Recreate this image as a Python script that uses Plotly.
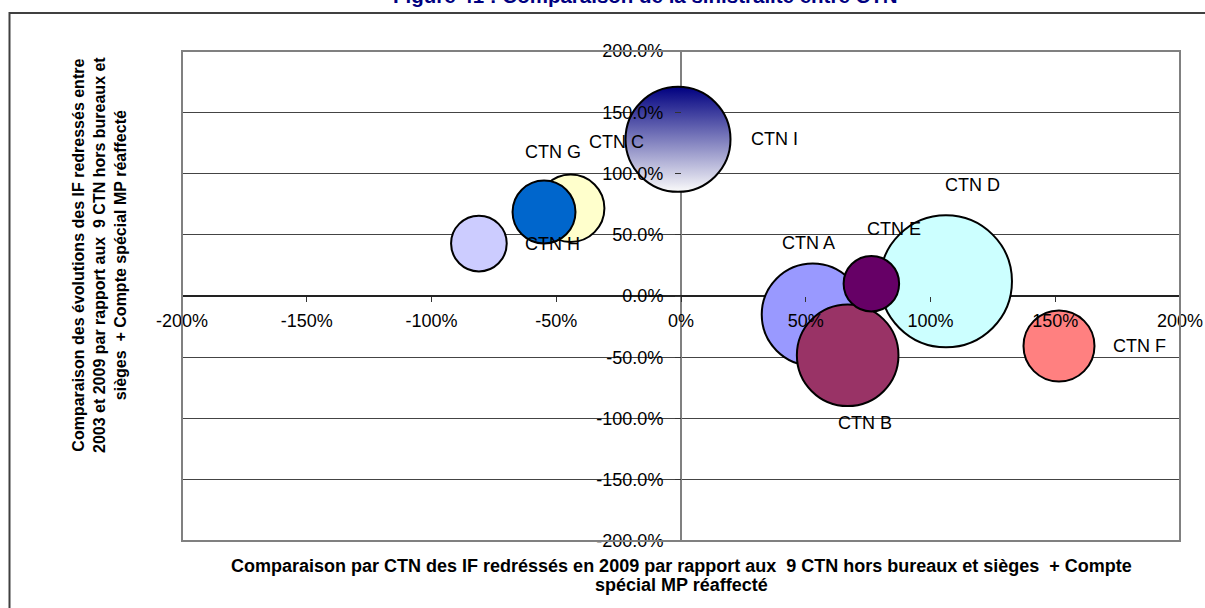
import numpy as np
import plotly.graph_objects as go

# --- data -------------------------------------------------------------
ctn_names = ["CTN A", "CTN B", "CTN C", "CTN D", "CTN E", "CTN F", "CTN G", "CTN H", "CTN I"]
# IF 2009 compared with the 9 CTN (x, %) and 2003-2009 evolution (y, %)
x_ratio_2009 = [52.8, 66.8, -44.2, 106.2, 76.3, 151.5, -54.9, -81.0, -1.2]
y_evolution = [-15.2, -48.4, 71.6, 12.0, 10.1, -40.8, 68.6, 42.8, 127.9]
bubble_size = [2600, 2580, 1135, 4355, 770, 1260, 990, 775, 2755]

x_tick_values = [-200, -150, -100, -50, 0, 50, 100, 150, 200]
x_tick_labels = ["-200%", "-150%", "-100%", "-50%", "0%", "50%", "100%", "150%", "200%"]
y_tick_values = [-200, -150, -100, -50, 0, 50, 100, 150, 200]
y_tick_labels = ["-200.0%", "-150.0%", "-100.0%", "-50.0%", "0.0%", "50.0%", "100.0%", "150.0%", "200.0%"]

# --- styling ----------------------------------------------------------
fills = ["#9999FF", "#993366", "#FFFFCC", "#CCFFFF", "#660066", "#FF8080", "#0066CC", "#CCCCFF", "#000080"]
gradient_type = ["none"] * 8 + ["vertical"]
# label offsets in pixels (dx right, dy up) relative to each bubble centre
label_shift = [(-4, 72), (17, -68), (46, 66), (27, 96), (23, 55), (81, 0), (9, 60), (74, 0), (96, 0)]

W, H = 1205, 608
ML, MR, MT, MB = 182, 25, 51, 67
PW, PH = W - ML - MR, H - MT - MB
FONT = "Liberation Sans, Arial, sans-serif"
MAX_DIAM = 132


def px_x(px):
    return (px - ML) / PW


def px_y(py):
    return (H - MB - py) / PH


sizeref = 2.0 * max(bubble_size) / MAX_DIAM ** 2

fig = go.Figure()

# larger bubbles first so the smaller ones sit on top
for i in np.argsort(bubble_size)[::-1]:
    fig.add_trace(go.Scatter(
        x=[x_ratio_2009[i]], y=[y_evolution[i]], mode="markers", name=ctn_names[i],
        marker=dict(size=[bubble_size[i]], sizemode="area", sizeref=sizeref,
                    color=fills[i], opacity=1,
                    line=dict(color="black", width=2),
                    gradient=dict(type=gradient_type[i], color="#FAFAFA")),
        hoverinfo="name", showlegend=False,
    ))

annotations = []
for i, name in enumerate(ctn_names):
    dx, dy = label_shift[i]
    annotations.append(dict(x=x_ratio_2009[i], y=y_evolution[i], xref="x", yref="y",
                            text=name, showarrow=False, xshift=dx, yshift=dy,
                            font=dict(family=FONT, size=18, color="black")))

# chart title (partly above the page edge)
annotations.append(dict(x=px_x(645), y=px_y(9), xref="paper", yref="paper",
                        xanchor="center", yanchor="bottom", showarrow=False,
                        text="<b>Figure 41 : Comparaison de la sinistralité entre CTN</b>",
                        font=dict(family=FONT, size=20.5, color="#000080")))

# axis titles
annotations.append(dict(x=px_x(99), y=px_y(255), xref="paper", yref="paper",
                        xanchor="center", yanchor="middle", showarrow=False, textangle=-90,
                        text="<b>Comparaison des évolutions des IF redressés entre<br>"
                             "2003 et 2009 par rapport aux  9 CTN hors bureaux et<br>"
                             "sièges  + Compte spécial MP réaffecté</b>",
                        font=dict(family=FONT, size=16, color="black")))
x_title_lines = ["Comparaison par CTN des IF redréssés en 2009 par rapport aux  9 CTN hors bureaux et sièges  + Compte",
                 "spécial MP réaffecté"]
for k, line in enumerate(x_title_lines):
    annotations.append(dict(x=px_x(681), y=px_y(566 + 19 * k), xref="paper", yref="paper",
                            xanchor="center", yanchor="middle", showarrow=False,
                            text="<b>" + line + "</b>",
                            font=dict(family=FONT, size=18, color="black")))

shapes = [
    # outer chart frame
    dict(type="rect", xref="paper", yref="paper", x0=px_x(9.5), y0=px_y(700), x1=px_x(1300), y1=px_y(13),
         line=dict(color="#404040", width=2), layer="below"),
    # plot area frame
    dict(type="rect", xref="paper", yref="paper", x0=0, y0=0, x1=1, y1=1,
         line=dict(color="#808080", width=2), layer="above"),
]

fig.update_layout(
    width=W, height=H, autosize=False,
    margin=dict(l=ML, r=MR, t=MT, b=MB, pad=0),
    paper_bgcolor="white", plot_bgcolor="white",
    font=dict(family=FONT, size=18, color="black"),
    annotations=annotations, shapes=shapes,
    xaxis=dict(range=[-200, 200], tickvals=x_tick_values, ticktext=x_tick_labels,
               showgrid=False, zeroline=True, zerolinecolor="#808080", zerolinewidth=1.5,
               showline=False, anchor="free", position=0.5, automargin=False,
               ticks="outside", ticklen=5, tickcolor="#333", tickwidth=1,
               ticklabelstandoff=3, tickfont=dict(size=18)),
    yaxis=dict(range=[-200, 200], tickvals=y_tick_values, ticktext=y_tick_labels,
               showgrid=True, gridcolor="#444444", gridwidth=1,
               zeroline=True, zerolinecolor="#222222", zerolinewidth=1.5,
               showline=False, anchor="free", position=0.5, automargin=False,
               ticks="outside", ticklen=6, tickcolor="#333", tickwidth=1,
               ticklabelstandoff=8, tickfont=dict(size=18)),
)

fig.write_html("out.html", config={"responsive": False})
